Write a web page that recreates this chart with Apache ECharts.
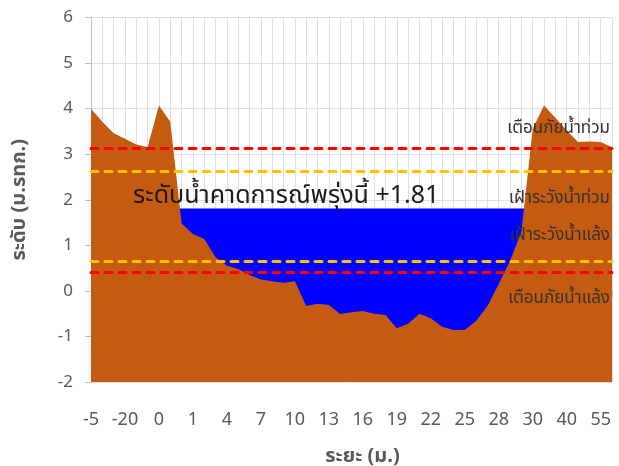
<!DOCTYPE html>
<html>
<head>
<meta charset="utf-8">
<script src="https://cdn.jsdelivr.net/npm/echarts@6/dist/echarts.min.js"></script>
<style>
  html, body { margin: 0; padding: 0; background: #fff; }
  #chart { width: 619px; height: 466px; }
</style>
</head>
<body>
<div id="chart"></div>
<script>
// Cross-section stations (m); every third one is labelled on the axis
const distances = [
  '-5', '-40', '-30', '-20', '-15', '-10', '0', '0.5', '0.8',
  '1', '2', '3', '4', '5', '6', '7', '8', '9', '10', '11', '12', '13', '14',
  '15', '16', '17', '18', '19', '20', '21', '22', '23', '24', '25', '26', '27', '28',
  '29', '29.5', '30', '33', '36', '40', '45', '50', '55', '60'
];

// Riverbed / bank elevation at each station (m MSL)
const bedLevel = [
  4.00, 3.71, 3.46, 3.34, 3.21, 3.16, 4.07, 3.71, 1.48,
  1.25, 1.14, 0.74, 0.55, 0.48, 0.35, 0.25, 0.21, 0.18, 0.21, -0.33, -0.28, -0.31, -0.51,
  -0.47, -0.44, -0.50, -0.53, -0.82, -0.72, -0.50, -0.60, -0.79, -0.86, -0.86, -0.66, -0.33, 0.15,
  0.66, 1.30, 3.56, 4.07, 3.80, 3.52, 3.27, 3.28, 3.27, 3.15
];

// Forecast water level for tomorrow (m MSL)
const forecastLevel = 1.81;

// Warning thresholds (m MSL)
const floodWarning = 3.14;
const floodWatch = 2.63;
const droughtWatch = 0.66;
const droughtWarning = 0.40;

const yTicks = { min: -2, max: 6, step: 1 };

const thaiFont = "'Noto Sans Thai', 'Noto Sans Thai UI', Tahoma, 'Noto Sans', sans-serif";
const numFont = "'Noto Sans', 'Open Sans', sans-serif";

const chart = echarts.init(document.getElementById('chart'));

function thresholdLine(value, color, text, pos, dist) {
  return {
    yAxis: value,
    lineStyle: { color: color, width: 3, type: [7, 7], cap: 'round' },
    label: {
      show: true,
      formatter: text,
      position: pos,
      distance: dist,
      color: '#333',
      fontSize: 17,
      fontFamily: thaiFont
    }
  };
}

chart.setOption({
  animation: false,
  grid: { left: 91, right: 7, top: 17.5, bottom: 84, containLabel: false, outerBoundsMode: 'none' },
  title: {
    text: 'ระดับน้ำคาดการณ์พรุ่งนี้ +1.81',
    left: 128,
    top: 180,
    textStyle: { color: '#1a1a1a', fontSize: 25, fontWeight: 'normal', fontFamily: thaiFont }
  },
  xAxis: {
    type: 'category',
    data: distances,
    boundaryGap: false,
    name: 'ระยะ (ม.)',
    nameLocation: 'middle',
    nameGap: 66,
    nameTextStyle: {
      color: '#595959', fontSize: 20, fontWeight: 'bold', fontFamily: thaiFont,
      padding: [0, 0, 0, 22]
    },
    axisLine: { lineStyle: { color: '#BFBFBF', width: 1 } },
    axisTick: { show: true, interval: 0, length: 6, lineStyle: { color: '#BFBFBF' } },
    axisLabel: { interval: 2, color: '#595959', fontSize: 18, margin: 29, fontFamily: numFont },
    splitLine: { show: true, interval: 0, lineStyle: { color: '#E0E0E0', width: 1 } }
  },
  yAxis: {
    type: 'value',
    min: yTicks.min,
    max: yTicks.max,
    interval: yTicks.step,
    name: 'ระดับ (ม.รทก.)',
    nameLocation: 'middle',
    nameGap: 60,
    nameRotate: 90,
    nameTextStyle: { color: '#595959', fontSize: 20, fontWeight: 'bold', fontFamily: thaiFont },
    axisLine: { show: true, lineStyle: { color: '#BFBFBF', width: 1 } },
    axisTick: { show: true, length: 6, lineStyle: { color: '#BFBFBF' } },
    axisLabel: { color: '#595959', fontSize: 17, margin: 18, fontFamily: numFont },
    splitLine: { show: true, lineStyle: { color: '#E0E0E0', width: 1 } }
  },
  series: [
    {
      name: 'ระดับน้ำ',
      type: 'line',
      data: distances.map(() => forecastLevel),
      symbol: 'none',
      lineStyle: { width: 0 },
      areaStyle: { color: '#0000FF', opacity: 1, origin: 'start' },
      z: 1
    },
    {
      name: 'ท้องน้ำ',
      type: 'line',
      data: bedLevel,
      symbol: 'none',
      lineStyle: { width: 0 },
      areaStyle: { color: '#C55A11', opacity: 1, origin: 'start' },
      z: 2,
      markLine: {
        silent: true,
        symbol: 'none',
        animation: false,
        data: [
          thresholdLine(floodWarning, '#FF0000', 'เตือนภัยน้ำท่วม', 'insideEndTop', [2, 10]),
          thresholdLine(floodWatch, '#FFC000', 'เฝ้าระวังน้ำท่วม', 'insideEndBottom', [2, 20]),
          thresholdLine(droughtWatch, '#FFC000', 'เฝ้าระวังน้ำแล้ง', 'insideEndTop', [2, 16]),
          thresholdLine(droughtWarning, '#FF0000', 'เตือนภัยน้ำแล้ง', 'insideEndBottom', [2, 18])
        ]
      }
    }
  ]
});
</script>
</body>
</html>
